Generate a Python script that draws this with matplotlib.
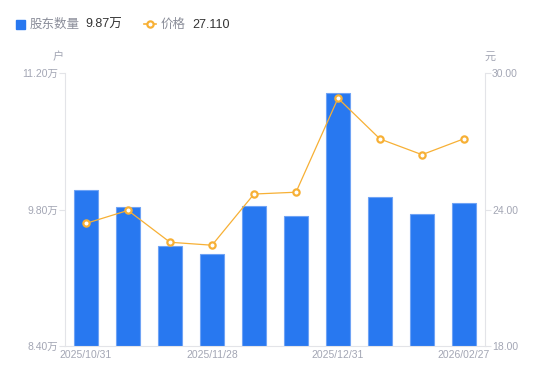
import matplotlib
matplotlib.use("Agg")
import matplotlib.pyplot as plt
from matplotlib.lines import Line2D

plt.rcParams['font.family'] = ['Liberation Sans', 'Noto Sans CJK SC', 'DejaVu Sans']

dates = ["2025/10/31", "2025/11/10", "2025/11/20", "2025/11/28", "2025/12/10",
         "2025/12/19", "2025/12/31", "2026/01/20", "2026/02/10", "2026/02/27"]
holders = [10.00, 9.83, 9.43, 9.34, 9.84, 9.73, 11.00, 9.93, 9.75, 9.87]  # 万户
price = [23.39, 23.96, 22.56, 22.43, 24.68, 24.76, 28.89, 27.10, 26.41, 27.11]
shown_dates = ["2025/10/31", "2025/11/28", "2025/12/31", "2026/02/27"]
left_ticks = [8.40, 9.80, 11.20]
right_ticks = [18.00, 24.00, 30.00]

BLUE = '#2878F0'
ORANGE = '#F7B035'
GRAY = '#A3A6B4'
AXIS = '#E3E4E8'

fig = plt.figure(figsize=(5.5, 3.81), dpi=100)
ax = fig.add_axes([65/550, 1-346/381, 420/550, 273/381])
x = list(range(len(dates)))
ax.bar(x, holders, width=0.59, color=BLUE, edgecolor='#6FA3F5', linewidth=0.8, zorder=2)
ax.set_ylim(left_ticks[0], left_ticks[-1])
ax.set_xlim(-0.5, len(dates) - 0.5)
ax.set_yticks(left_ticks)
ax.set_yticklabels([f"{v:.2f}万" for v in left_ticks])
ax.set_xticks([dates.index(d) for d in shown_dates])
ax.set_xticklabels(shown_dates)

ax2 = ax.twinx()
ax2.plot(x, price, color=ORANGE, linewidth=0.9, marker='o', markersize=4.5,
         markerfacecolor='white', markeredgecolor=ORANGE, markeredgewidth=1.6, zorder=3)
ax2.set_ylim(right_ticks[0], right_ticks[-1])
ax2.set_yticks(right_ticks)
ax2.set_yticklabels([f"{v:.2f}" for v in right_ticks])

for a in (ax, ax2):
    for s in a.spines.values():
        s.set_visible(False)
ax.spines['left'].set_visible(True)
ax.spines['left'].set_color(AXIS)
ax.spines['bottom'].set_visible(True)
ax.spines['bottom'].set_color(AXIS)
ax2.spines['right'].set_visible(True)
ax2.spines['right'].set_color(AXIS)

ax.tick_params(axis='y', colors=AXIS, labelcolor=GRAY, labelsize=7.5, length=4, width=0.8, pad=1)
ax.tick_params(axis='x', length=0, labelcolor=GRAY, labelsize=7.5, pad=3)
ax2.tick_params(axis='y', colors=AXIS, labelcolor=GRAY, labelsize=7.5, length=4, width=0.8, pad=1)

fig.text(58/550, 1-57/381, "户", color=GRAY, fontsize=8, ha='center', va='center')
fig.text(490/550, 1-57/381, "元", color=GRAY, fontsize=8, ha='center', va='center')

# legend
ly = 1 - 25/381
fig.patches.append(plt.Rectangle((16/550, 1-29/381), 9/550, 9/381, transform=fig.transFigure,
                                 color=BLUE, figure=fig))
fig.text(30/550, ly, "股东数量", color='#8A8D99', fontsize=9, va='center')
fig.text(85/550, ly, f"{holders[-1]:.2f}万", color='#333333', fontsize=9, va='center')
fig.lines.append(Line2D([144/550, 156/550], [1-24/381, 1-24/381], transform=fig.transFigure,
                        color=ORANGE, linewidth=1.2, figure=fig))
fig.lines.append(Line2D([150/550], [1-24/381], transform=fig.transFigure, color=ORANGE,
                        marker='o', markersize=4.5, markerfacecolor='white', markeredgecolor=ORANGE,
                        markeredgewidth=1.6, linestyle='none', figure=fig))
fig.text(161/550, ly, "价格", color='#8A8D99', fontsize=9, va='center')
fig.text(192/550, ly, f"{price[-1]:.3f}", color='#333333', fontsize=9, va='center')

fig.savefig("out.png", dpi=100)
